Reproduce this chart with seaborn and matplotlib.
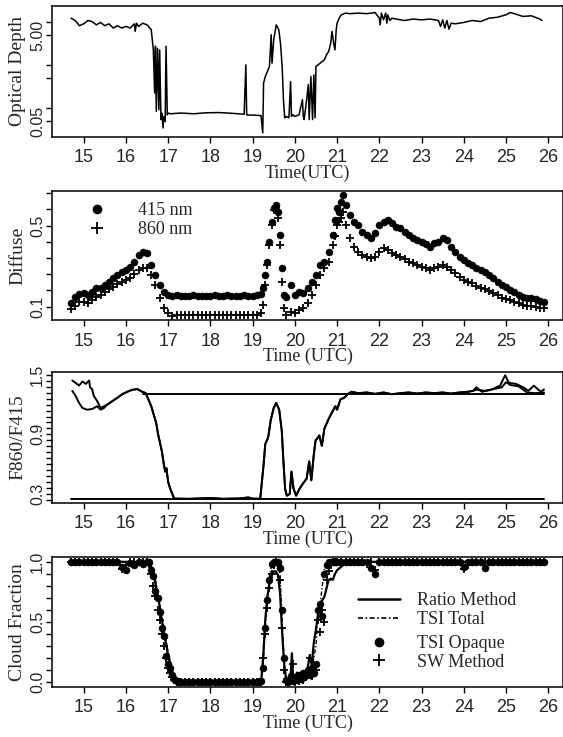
import matplotlib
matplotlib.use("Agg")
import matplotlib.pyplot as plt
import seaborn as sns
from matplotlib.lines import Line2D
from matplotlib.ticker import NullLocator

# ---------------- data ----------------
hour_ticks = [15, 16, 17, 18, 19, 20, 21, 22, 23, 24, 25, 26]

# Panel 1: optical depth (log scale)
t_od = [14.70, 14.80, 14.90, 15.00, 15.10, 15.20, 15.30, 15.40, 15.50, 15.60,
        15.70, 15.80, 15.90, 16.00, 16.10, 16.20, 16.22, 16.25, 16.30, 16.40,
        16.50, 16.60, 16.65, 16.68, 16.70, 16.72, 16.75, 16.78, 16.80, 16.83,
        16.85, 16.88, 16.90, 16.93, 16.95, 16.98, 17.00, 17.05, 17.30, 17.60,
        17.90, 18.20, 18.50, 18.80, 18.84, 18.86, 18.88, 19.00, 19.20, 19.24,
        19.26, 19.30, 19.35, 19.40, 19.44, 19.46, 19.50, 19.56, 19.62, 19.66,
        19.70, 19.73, 19.76, 19.80, 19.86, 19.90, 19.92, 19.95, 20.00, 20.10,
        20.18, 20.20, 20.22, 20.28, 20.32, 20.34, 20.38, 20.42, 20.45, 20.48,
        20.50, 20.55, 20.60, 20.65, 20.70, 20.75, 20.80, 20.85, 20.88, 20.92,
        20.95, 20.98, 21.00, 21.05, 21.10, 21.20, 21.30, 21.50, 21.70, 21.90,
        22.00, 22.02, 22.05, 22.10, 22.15, 22.18, 22.20, 22.25, 22.30, 22.40,
        22.60, 22.80, 23.00, 23.20, 23.40, 23.45, 23.50, 23.55, 23.60, 23.65,
        23.70, 23.80, 24.00, 24.20, 24.40, 24.60, 24.80, 25.00, 25.10, 25.20,
        25.40, 25.60, 25.80, 25.85]
optical_depth = [12.6, 11.1, 8.4, 9.3, 11.1, 10.5, 8.8, 10.0, 8.4, 9.3,
                 7.4, 8.4, 7.4, 8.1, 7.4, 9.3, 6.2, 9.6, 8.1, 9.6,
                 8.8, 6.8, 2.3, 0.23, 2.8, 0.085, 2.5, 0.093, 2.3, 0.055,
                 0.078, 0.035, 0.065, 0.05, 2.8, 0.071, 0.078, 0.075, 0.078, 0.075,
                 0.079, 0.080, 0.077, 0.073, 1.03, 0.071, 0.070, 0.070, 0.068, 0.027,
                 0.39, 0.55, 0.72, 0.95, 5.2, 1.13, 3.95, 8.8, 6.8, 3.3,
                 0.95, 0.16, 0.06, 0.065, 0.06, 0.42, 0.065, 0.071, 0.065, 0.071,
                 0.16, 0.065, 0.055, 0.16, 0.36, 0.055, 0.55, 0.055, 0.60, 0.06,
                 0.95, 1.03, 1.13, 1.24, 1.35, 1.77, 2.1, 3.3, 6.2, 3.3,
                 2.3, 6.8, 9.6, 12.6, 15.1, 16.5, 16.0, 16.5, 16.0, 17.0,
                 12.6, 8.8, 16.5, 11.5, 16.5, 9.6, 15.1, 11.1, 12.6, 12.0,
                 11.1, 12.0, 11.5, 12.0, 11.1, 8.1, 11.5, 7.4, 11.1, 7.0,
                 9.6, 9.3, 10.0, 11.1, 10.5, 12.6, 13.2, 15.1, 17.0, 16.0,
                 13.8, 14.3, 12.0, 11.1]
od_ticks = [0.05, 0.1, 0.5, 1, 5, 10]
od_labels = ["0.05", "", "", "", "5.00", ""]

# Panel 2: diffuse
t_diff = [14.7, 14.8, 14.9, 15.0, 15.1, 15.2, 15.3, 15.4, 15.5, 15.6,
          15.7, 15.8, 15.9, 16.0, 16.1, 16.2, 16.3, 16.4, 16.5, 16.6,
          16.7, 16.8, 16.9, 17.0, 17.1, 17.2, 17.3, 17.4, 17.5, 17.6,
          17.7, 17.8, 17.9, 18.0, 18.1, 18.2, 18.3, 18.4, 18.5, 18.6,
          18.7, 18.8, 18.9, 19.0, 19.1, 19.2,
          19.25, 19.3, 19.35, 19.4, 19.45, 19.5, 19.55, 19.6, 19.65, 19.7, 19.75, 19.8,
          19.9, 20.0, 20.1, 20.2, 20.3, 20.4, 20.5, 20.6, 20.7, 20.8, 20.9,
          20.95, 21.0, 21.05, 21.1, 21.15, 21.2,
          21.3, 21.4, 21.5, 21.6, 21.7, 21.8, 21.9, 22.0, 22.1, 22.2,
          22.3, 22.4, 22.5, 22.6, 22.7, 22.8, 22.9, 23.0, 23.1, 23.2,
          23.3, 23.4, 23.5, 23.6, 23.7, 23.8, 23.9, 24.0, 24.1, 24.2,
          24.3, 24.4, 24.5, 24.6, 24.7, 24.8, 24.9, 25.0, 25.1, 25.2,
          25.3, 25.4, 25.5, 25.6, 25.7, 25.8, 25.9]
diffuse_415 = [0.116, 0.149, 0.161, 0.166, 0.158, 0.174, 0.190, 0.194, 0.207, 0.223,
               0.240, 0.256, 0.270, 0.281, 0.298, 0.322, 0.355, 0.372, 0.363, 0.306,
               0.256, 0.207, 0.174, 0.158, 0.154, 0.155, 0.154, 0.153, 0.154, 0.155,
               0.154, 0.154, 0.153, 0.154, 0.155, 0.154, 0.154, 0.155, 0.154, 0.153,
               0.154, 0.155, 0.154, 0.154, 0.155, 0.160,
               0.190, 0.256, 0.322, 0.421, 0.520, 0.586, 0.602, 0.569, 0.454, 0.289, 0.158, 0.149,
               0.207, 0.158, 0.174, 0.166, 0.190, 0.223, 0.256, 0.306, 0.322, 0.372, 0.454,
               0.530, 0.586, 0.569, 0.618, 0.651, 0.602,
               0.553, 0.520, 0.503, 0.470, 0.454, 0.437, 0.462, 0.503, 0.520, 0.528,
               0.512, 0.495, 0.487, 0.470, 0.454, 0.440, 0.429, 0.421, 0.408, 0.396,
               0.413, 0.421, 0.437, 0.429, 0.396, 0.372, 0.347, 0.330, 0.314, 0.306,
               0.289, 0.281, 0.270, 0.256, 0.240, 0.223, 0.207, 0.199, 0.182, 0.171,
               0.158, 0.149, 0.144, 0.141, 0.138, 0.128, 0.121]
diffuse_860 = [0.088, 0.105, 0.125, 0.121, 0.116, 0.133, 0.149, 0.158, 0.171, 0.187,
               0.199, 0.210, 0.223, 0.232, 0.243, 0.260, 0.281, 0.289, 0.289, 0.256,
               0.207, 0.141, 0.092, 0.067, 0.056, 0.059, 0.058, 0.060, 0.059, 0.058,
               0.059, 0.060, 0.059, 0.058, 0.059, 0.060, 0.059, 0.058, 0.059, 0.060,
               0.059, 0.058, 0.059, 0.060, 0.059, 0.067,
               0.108, 0.207, 0.306, 0.405, 0.503, 0.577, 0.586, 0.536, 0.405, 0.223, 0.092, 0.059,
               0.075, 0.067, 0.084, 0.092, 0.116, 0.158, 0.207, 0.256, 0.289, 0.322, 0.405,
               0.450, 0.503, 0.520, 0.536, 0.569, 0.503,
               0.437, 0.396, 0.372, 0.355, 0.347, 0.339, 0.347, 0.372, 0.388, 0.380,
               0.363, 0.355, 0.347, 0.335, 0.322, 0.314, 0.306, 0.298, 0.289, 0.281,
               0.289, 0.298, 0.306, 0.298, 0.281, 0.265, 0.248, 0.232, 0.223, 0.215,
               0.204, 0.194, 0.187, 0.177, 0.166, 0.158, 0.144, 0.138, 0.133, 0.125,
               0.116, 0.108, 0.105, 0.105, 0.100, 0.095, 0.092]
diff_ticks = [0.10, 0.18, 0.26, 0.34, 0.42, 0.50, 0.58, 0.66]
diff_labels = ["0.1", "", "", "", "", "0.5", "", ""]

# Panel 3: F860/F415 ratio, two curves sharing a middle section
t_ratio_a_left = [14.73, 14.81, 14.89, 14.97, 15.05, 15.13, 15.15, 15.20, 15.24, 15.32, 15.40]
r_ratio_a_left = [1.444, 1.420, 1.392, 1.434, 1.410, 1.444, 1.375, 1.357, 1.288, 1.236, 1.166]
t_ratio_b_left = [14.73, 14.81, 14.89, 14.97, 15.08, 15.20, 15.32, 15.40, 15.48]
r_ratio_b_left = [1.340, 1.288, 1.218, 1.166, 1.149, 1.156, 1.184, 1.149, 1.166]
t_ratio_mid = [15.56, 15.68, 15.80, 15.91, 16.03, 16.15, 16.27, 16.39, 16.47, 16.60,
               16.72, 16.76, 16.85, 16.90, 16.93, 16.96, 17.00, 17.05, 17.10, 17.14,
               17.50, 18.00, 18.30, 18.70, 18.90, 19.00, 19.18, 19.26, 19.30, 19.37,
               19.43, 19.50, 19.56, 19.63, 19.69, 19.73, 19.77, 19.81, 19.88, 19.92,
               19.97, 20.03, 20.11, 20.19, 20.28, 20.34, 20.39, 20.45, 20.49, 20.58,
               20.64, 20.70, 20.79, 20.87, 20.96, 21.00, 21.08, 21.17, 21.25, 21.34,
               21.50, 21.70, 21.90, 22.10, 22.30, 22.50, 22.70, 22.90, 23.10, 23.30,
               23.50, 23.70, 23.90, 24.10, 24.22]
r_ratio_mid = [1.201, 1.236, 1.270, 1.305, 1.330, 1.350, 1.357, 1.330, 1.316, 1.184,
               1.010, 0.905, 0.732, 0.592, 0.523, 0.558, 0.419, 0.349, 0.297, 0.250,
               0.248, 0.256, 0.248, 0.252, 0.262, 0.250, 0.248, 0.592, 0.801, 0.871,
               1.045, 1.166, 1.218, 1.149, 0.940, 0.627, 0.349, 0.280, 0.297, 0.523,
               0.349, 0.280, 0.349, 0.401, 0.453, 0.627, 0.436, 0.697, 0.836, 0.888,
               0.784, 0.958, 1.045, 1.114, 1.184, 1.149, 1.253, 1.270, 1.305, 1.330,
               1.316, 1.323, 1.309, 1.323, 1.305, 1.316, 1.323, 1.312, 1.323, 1.316,
               1.323, 1.312, 1.323, 1.330, 1.340]
t_ratio_a_right = [24.30, 24.43, 24.64, 24.86, 24.98, 25.07, 25.24, 25.41, 25.53, 25.66, 25.75, 25.83, 25.90]
r_ratio_a_right = [1.375, 1.330, 1.350, 1.392, 1.497, 1.420, 1.410, 1.375, 1.340, 1.392, 1.357, 1.330, 1.354]
t_ratio_b_right = [24.30, 24.50, 24.70, 24.90, 25.00, 25.10, 25.30, 25.50, 25.70, 25.90]
r_ratio_b_right = [1.350, 1.340, 1.357, 1.375, 1.427, 1.399, 1.385, 1.323, 1.316, 1.323]
t_overcast = [16.40, 25.90]
r_overcast = [1.312, 1.312]
t_clear = [14.70, 25.90]
r_clear = [0.245, 0.245]
ratio_ticks = [0.24, 0.30, 0.36, 0.42, 0.48, 0.54, 0.60, 0.66, 0.72, 0.78, 0.84,
               0.90, 0.96, 1.02, 1.08, 1.14, 1.20, 1.26, 1.32, 1.38, 1.44, 1.50]
ratio_labels = ["", "0.3", "", "", "", "", "", "", "", "", "",
                "0.9", "", "", "", "", "", "", "", "", "", "1.5"]

# Panel 4: cloud fraction
t_ratio_method = [14.7, 16.55, 16.6, 16.65, 16.7, 16.75, 16.8, 16.85, 16.9, 16.95,
                  17.0, 17.05, 17.1, 17.15, 17.2, 17.3, 19.2, 19.25, 19.3, 19.35,
                  19.4, 19.45, 19.5, 19.55, 19.6, 19.65, 19.7, 19.75, 19.8, 19.85,
                  19.9, 19.93, 19.96, 20.0, 20.05, 20.1, 20.2, 20.3, 20.35, 20.4,
                  20.45, 20.5, 20.55, 20.6, 20.65, 20.7, 20.75, 20.8, 20.85, 20.9,
                  20.95, 21.0, 21.1, 21.2, 21.3, 25.9]
cf_ratio_method = [1.0, 1.0, 0.96, 0.90, 0.82, 0.72, 0.63, 0.52, 0.41, 0.32,
                   0.22, 0.15, 0.08, 0.04, 0.01, 0.0, 0.0, 0.20, 0.52, 0.71,
                   0.82, 0.89, 0.92, 0.92, 0.89, 0.74, 0.41, 0.14, 0.01, 0.0,
                   0.04, 0.24, 0.03, 0.03, 0.08, 0.04, 0.07, 0.11, 0.22, 0.14,
                   0.33, 0.44, 0.57, 0.66, 0.68, 0.71, 0.78, 0.85, 0.86, 0.85,
                   0.90, 0.93, 0.96, 0.99, 1.0, 1.0]
t_tsi_total = [14.7, 16.55, 16.6, 16.7, 16.8, 16.9, 17.0, 17.1, 17.2, 17.3,
               19.2, 19.25, 19.3, 19.35, 19.4, 19.45, 19.5, 19.6, 19.65, 19.7,
               19.75, 19.8, 20.0, 20.2, 20.4, 20.5, 20.55, 20.6, 20.65, 20.7,
               20.75, 25.9]
cf_tsi_total = [1.0, 1.0, 0.98, 0.85, 0.66, 0.45, 0.25, 0.10, 0.02, 0.0,
                0.0, 0.15, 0.45, 0.70, 0.88, 0.97, 1.0, 1.0, 0.90, 0.50,
                0.15, 0.02, 0.03, 0.05, 0.10, 0.30, 0.55, 0.65, 0.80, 0.95,
                1.0, 1.0]
t_cf_points = [14.7, 14.8, 14.9, 15.0, 15.1, 15.2, 15.3, 15.4, 15.5, 15.6,
               15.7, 15.8, 15.9, 16.0, 16.1, 16.2, 16.3, 16.4, 16.5,
               16.55, 16.6, 16.65, 16.7, 16.75, 16.8, 16.85, 16.9, 16.95, 17.0,
               17.05, 17.1, 17.15, 17.2, 17.25, 17.3,
               17.4, 17.5, 17.6, 17.7, 17.8, 17.9, 18.0, 18.1, 18.2, 18.3,
               18.4, 18.5, 18.6, 18.7, 18.8, 18.9, 19.0, 19.1,
               19.15, 19.2, 19.25, 19.3, 19.35, 19.4, 19.45, 19.5, 19.55, 19.6,
               19.65, 19.7, 19.75, 19.8, 19.85, 19.9, 19.95, 20.0, 20.05, 20.1,
               20.15, 20.2, 20.25, 20.3, 20.35, 20.4, 20.45, 20.5, 20.55, 20.6,
               20.65, 20.7, 20.75, 20.8, 20.85, 20.9, 20.95, 21.0,
               21.1, 21.2, 21.3, 21.4, 21.5, 21.6, 21.7, 21.8, 21.9, 22.0,
               22.1, 22.2, 22.3, 22.4, 22.5, 22.6, 22.7, 22.8, 22.9, 23.0,
               23.1, 23.2, 23.3, 23.4, 23.5, 23.6, 23.7, 23.8, 23.9, 24.0,
               24.1, 24.2, 24.3, 24.4, 24.5, 24.6, 24.7, 24.8, 24.9, 25.0,
               25.1, 25.2, 25.3, 25.4, 25.5, 25.6, 25.7, 25.8, 25.9]
cf_tsi_opaque = [1, 1, 1, 1, 1, 1, 1, 1, 1, 1,
                 1, 1, 0.96, 0.93, 0.99, 0.97, 1, 0.98, 1,
                 1.0, 0.93, 0.88, 0.76, 0.70, 0.58, 0.45, 0.38, 0.22, 0.15,
                 0.12, 0.06, 0.03, 0.01, 0.0, 0.0,
                 0, 0, 0, 0, 0, 0, 0, 0, 0, 0,
                 0, 0, 0, 0, 0, 0, 0, 0,
                 0.0, 0.01, 0.12, 0.45, 0.68, 0.85, 0.98, 1.0, 1.0, 1.0,
                 0.95, 0.60, 0.20, 0.02, 0.0, 0.05, 0.01, 0.04, 0.02, 0.06,
                 0.03, 0.08, 0.05, 0.10, 0.06, 0.12, 0.08, 0.15, 0.60, 0.65,
                 0.55, 0.90, 0.97, 1.0, 1.0, 1.0, 1.0, 1.0,
                 1, 1, 1, 1, 1, 1, 1, 0.95, 0.90, 1,
                 1, 1, 1, 1, 1, 1, 1, 1, 1, 1,
                 1, 1, 1, 1, 1, 1, 1, 1, 1, 0.96,
                 1, 1, 1, 1, 0.95, 1, 1, 1, 1, 1,
                 1, 1, 1, 1, 1, 1, 1, 1, 1]
cf_sw_method = [1, 1, 1, 1, 1, 1, 1, 1, 1, 1,
                1, 1, 0.94, 0.97, 1, 1, 1, 1, 1,
                0.98, 0.90, 0.80, 0.72, 0.60, 0.52, 0.40, 0.30, 0.20, 0.12,
                0.08, 0.04, 0.02, 0.0, 0.0, 0.0,
                0, 0, 0, 0, 0, 0, 0, 0, 0, 0,
                0, 0, 0, 0, 0, 0, 0, 0,
                0.0, 0.0, 0.20, 0.40, 0.62, 0.78, 0.90, 0.97, 1.0, 0.97,
                0.85, 0.45, 0.10, 0.0, 0.0, 0.02, 0.15, 0.0, 0.03, 0.01,
                0.05, 0.02, 0.04, 0.08, 0.20, 0.05, 0.10, 0.10, 0.52, 0.42,
                0.60, 0.50, 0.85, 0.92, 0.97, 1.0, 1.0, 1.0,
                1, 1, 1, 1, 1, 1, 0.98, 1, 0.93, 1,
                1, 1, 1, 1, 1, 1, 1, 1, 1, 1,
                1, 1, 1, 1, 1, 1, 1, 1, 1, 0.94,
                0.97, 1, 1, 1, 1, 1, 1, 1, 1, 1,
                1, 1, 1, 1, 1, 1, 1, 1, 1]
cf_ticks = [0.0, 0.1, 0.2, 0.3, 0.4, 0.5, 0.6, 0.7, 0.8, 0.9, 1.0]
cf_labels = ["0.0", "", "", "", "", "0.5", "", "", "", "", "1.0"]

# ---------------- style ----------------
sns.set_style("ticks")
SERIF = ["Liberation Serif", "DejaVu Serif"]
NARROW = ["Liberation Sans Narrow", "Liberation Sans", "DejaVu Sans"]
SANS = ["Liberation Sans", "DejaVu Sans"]
plt.rcParams["font.family"] = SERIF
plt.rcParams["axes.edgecolor"] = "black"
plt.rcParams["axes.linewidth"] = 1.1

W, H = 563, 737
fig = plt.figure(figsize=(W / 100, H / 100), dpi=100)


def make_axes(top_px, bottom_px, left_px=52, right_px=563):
    return fig.add_axes([left_px / W, (H - bottom_px) / H,
                         (right_px - left_px) / W, (bottom_px - top_px) / H])


def style(ax, xlabel, ylabel, yticks, ylabels, height_px):
    ax.set_xlim(14.25, 26.35)
    ax.set_xticks(hour_ticks)
    ax.set_xticklabels([str(h) for h in hour_ticks], family=NARROW, fontsize=13)
    ax.set_yticks(yticks, labels=ylabels)
    ax.yaxis.set_minor_locator(NullLocator())
    for lab in ax.get_yticklabels():
        lab.set_rotation(90)
        lab.set_va("center")
        lab.set_family(SANS)
        lab.set_fontsize(11.5)
    ax.tick_params(axis="both", direction="out", length=4, width=1, color="black")
    ax.tick_params(axis="x", pad=5)
    ax.tick_params(axis="y", pad=1)
    for sp in ax.spines.values():
        sp.set_visible(True)
        sp.set_color("black")
        sp.set_linewidth(1.1)
    ax.set_xlabel(xlabel, family=SERIF, fontsize=13)
    ax.xaxis.set_label_coords(0.5, -28 / height_px)
    ax.set_ylabel(ylabel, family=SERIF, fontsize=14)
    ax.yaxis.set_label_coords(-0.05, 0.5)


# Panel 1
ax1 = make_axes(5.5, 137)
sns.lineplot(x=t_od, y=optical_depth, ax=ax1, color="black", linewidth=1.1,
             estimator=None, sort=False, legend=False)
ax1.set_yscale("log")
ax1.set_ylim(0.0216, 24.8)
style(ax1, "Time(UTC)", "Optical Depth", od_ticks, od_labels, 131.5)

# Panel 2
ax2 = make_axes(191, 320)
sns.scatterplot(x=t_diff, y=diffuse_415, ax=ax2, marker="o", s=26, color="black",
                edgecolor="black", linewidth=0.3, legend=False)
sns.scatterplot(x=t_diff, y=diffuse_860, ax=ax2, marker="+", s=40, color="black",
                linewidth=1.3, legend=False)
ax2.set_ylim(0.034, 0.671)
style(ax2, "Time (UTC)", "Diffuse", diff_ticks, diff_labels, 129)
h_dot = Line2D([], [], marker="o", ls="none", color="black", markersize=6)
h_plus = Line2D([], [], marker="+", ls="none", color="black", markersize=8, markeredgewidth=1.3)
ax2.legend([h_dot, h_plus], ["415 nm", "860 nm"], loc="center left",
           bbox_to_anchor=(0.047, 0.775), frameon=False, borderpad=0, borderaxespad=0,
           handlelength=2.3, handletextpad=1.15, labelspacing=0.1,
           prop={"family": SERIF, "size": 13})

# Panel 3
ax3 = make_axes(372, 503)
for tt, rr in [(t_ratio_a_left + t_ratio_mid + t_ratio_a_right,
                r_ratio_a_left + r_ratio_mid + r_ratio_a_right),
               (t_ratio_b_left + t_ratio_mid + t_ratio_b_right,
                r_ratio_b_left + r_ratio_mid + r_ratio_b_right),
               (t_overcast, r_overcast), (t_clear, r_clear)]:
    sns.lineplot(x=tt, y=rr, ax=ax3, color="black", linewidth=1.4,
                 estimator=None, sort=False, legend=False)
ax3.set_ylim(0.206, 1.53)
style(ax3, "Time (UTC)", "F860/F415", ratio_ticks, ratio_labels, 131)

# Panel 4
ax4 = make_axes(557, 687)
sns.scatterplot(x=t_cf_points, y=cf_tsi_opaque, ax=ax4, marker="o", s=26, color="black",
                edgecolor="black", linewidth=0.3, legend=False)
sns.scatterplot(x=t_cf_points, y=cf_sw_method, ax=ax4, marker="+", s=40, color="black",
                linewidth=1.3, legend=False)
sns.lineplot(x=t_tsi_total, y=cf_tsi_total, ax=ax4, color="black", linewidth=1.0,
             linestyle=(0, (3, 1.5, 1, 1.5)), estimator=None, sort=False, legend=False)
sns.lineplot(x=t_ratio_method, y=cf_ratio_method, ax=ax4, color="black", linewidth=1.6,
             estimator=None, sort=False, legend=False)
ax4.set_ylim(-0.04, 1.04)
style(ax4, "Time (UTC)", "Cloud Fraction", cf_ticks, cf_labels, 130)
leg_kw = dict(loc="center left", frameon=False, borderpad=0, borderaxespad=0,
              handlelength=2.3, handletextpad=0.95, labelspacing=0.1,
              prop={"family": SERIF, "size": 13})
h_solid = Line2D([], [], color="black", linewidth=1.8)
h_dd = Line2D([], [], color="black", linewidth=1.2, linestyle=(0, (3, 1.5, 1, 1.5)))
legA = ax4.legend([h_solid, h_dd], ["Ratio Method", "TSI Total"],
                  bbox_to_anchor=(0.599, 0.59), **leg_kw)
ax4.add_artist(legA)
h_dot2 = Line2D([], [], marker="o", ls="none", color="black", markersize=6)
h_plus2 = Line2D([], [], marker="+", ls="none", color="black", markersize=8, markeredgewidth=1.3)
ax4.legend([h_dot2, h_plus2], ["TSI Opaque", "SW Method"],
           bbox_to_anchor=(0.599, 0.263), **leg_kw)

fig.savefig("out.png", dpi=100, facecolor="white")
